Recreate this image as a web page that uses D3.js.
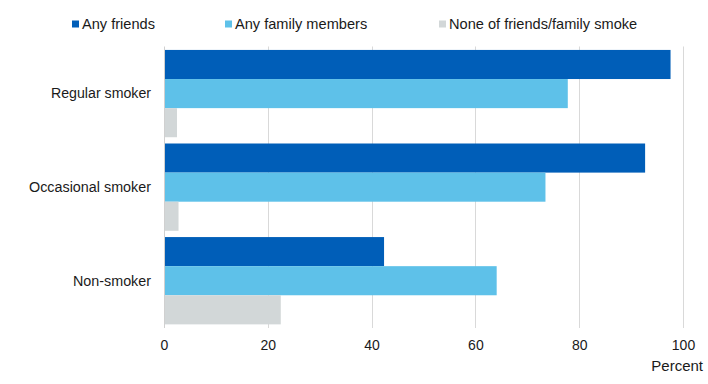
<!DOCTYPE html>
<html>
<head>
<meta charset="utf-8">
<script src="https://cdn.jsdelivr.net/npm/d3@7"></script>
<style>
body { margin: 0; background: #fff; }
text { font-family: "Liberation Sans", Arial, sans-serif; fill: #1a1a1a; }
</style>
</head>
<body>
<svg width="708" height="384"></svg>
<script>

var categories = ["Regular smoker", "Occasional smoker", "Non-smoker"];
var seriesNames = ["Any friends", "Any family members", "None of friends/family smoke"];
var anyFriends = [97.6, 92.7, 42.4];
var anyFamily = [77.8, 73.5, 64.1];
var noneSmoke = [2.5, 2.8, 22.5];
var xTicks = [0, 20, 40, 60, 80, 100];
var colors = ["#005eb8", "#5ec1e9", "#d2d7d8"];

var seriesValues = [anyFriends, anyFamily, noneSmoke];

var svg = d3.select("svg"),
    width = +svg.attr("width"),
    height = +svg.attr("height");

var x = d3.scaleLinear().domain([0, 100]).range([164, 683]);

var y = d3.scaleBand()
    .domain(categories)
    .range([46.8, 327.5])
    .paddingInner(0.067)
    .paddingOuter(0.0335);

var ySub = d3.scaleBand()
    .domain(d3.range(seriesNames.length))
    .range([0, y.bandwidth()]);

// gridlines
svg.append("g")
    .selectAll("line")
    .data(xTicks.slice(1))
  .enter().append("line")
    .attr("x1", function(d) { return Math.round(x(d)) + 0.5; })
    .attr("x2", function(d) { return Math.round(x(d)) + 0.5; })
    .attr("y1", 46.5)
    .attr("y2", 328)
    .attr("stroke", "#d9d9d9")
    .attr("stroke-width", 1);

// bars
var group = svg.append("g")
    .selectAll(".cat")
    .data(categories)
  .enter().append("g")
    .attr("class", "cat")
    .attr("transform", function(d) { return "translate(0," + y(d) + ")"; });

group.selectAll("rect")
    .data(function(d, i) {
        return seriesValues.map(function(s, j) { return { s: j, v: s[i] }; });
    })
  .enter().append("rect")
    .attr("x", x(0))
    .attr("y", function(d) { return ySub(d.s); })
    .attr("width", function(d) { return x(d.v) - x(0); })
    .attr("height", ySub.bandwidth())
    .attr("fill", function(d) { return colors[d.s]; });

// y axis line
svg.append("line")
    .attr("x1", Math.round(x(0)) + 0.5)
    .attr("x2", Math.round(x(0)) + 0.5)
    .attr("y1", 46.5)
    .attr("y2", 328)
    .attr("stroke", "#d0d0d0");

// category labels (chart text is a bit condensed)
var catWidth = [100, 122, 78];
svg.append("g")
    .selectAll("text")
    .data(categories)
  .enter().append("text")
    .attr("x", 151)
    .attr("y", function(d) { return y(d) + y.bandwidth() / 2; })
    .attr("dy", "0.35em")
    .attr("text-anchor", "end")
    .attr("textLength", function(d, i) { return catWidth[i]; })
    .attr("lengthAdjust", "spacingAndGlyphs")
    .style("font-size", "14px")
    .text(function(d) { return d; });

// x axis tick labels
var xAxis = d3.axisBottom(x).tickValues(xTicks).tickSize(0).tickPadding(0);
var gx = svg.append("g")
    .attr("transform", "translate(0,350)")
    .call(xAxis);
gx.select(".domain").remove();
gx.selectAll("text")
    .attr("dy", 0)
    .attr("y", 0)
    .style("font-size", "14px")
    .style("font-family", "'Liberation Sans', Arial, sans-serif")
    .attr("fill", "#1a1a1a");

svg.append("text")
    .attr("x", 703)
    .attr("y", 371)
    .attr("text-anchor", "end")
    .style("font-size", "15px")
    .text("Percent");

// legend
var legendX = [72, 225, 439];
var legend = svg.append("g")
    .selectAll("g")
    .data(seriesNames)
  .enter().append("g")
    .attr("transform", function(d, i) { return "translate(" + legendX[i] + ",0)"; });

legend.append("rect")
    .attr("x", 0)
    .attr("y", 20.5)
    .attr("width", 7)
    .attr("height", 7)
    .attr("fill", function(d, i) { return colors[i]; });

legend.append("text")
    .attr("x", 10)
    .attr("y", 24)
    .attr("dy", "0.35em")
    .style("font-size", "14.6px")
    .text(function(d) { return d; });

</script>
</body>
</html>
